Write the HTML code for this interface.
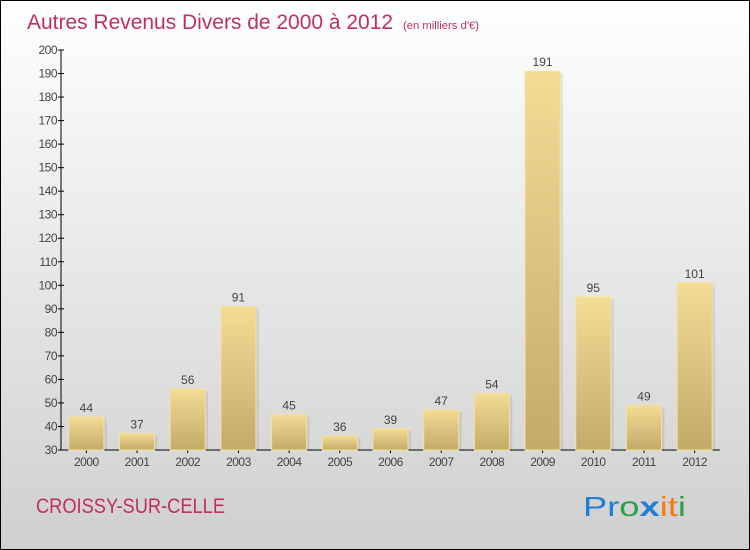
<!DOCTYPE html>
<html><head><meta charset="utf-8"><style>
body{margin:0}
#c{width:750px;height:550px;position:relative;overflow:hidden;font-family:"Liberation Sans",sans-serif}
</style></head><body>
<div id="c">
<svg id="s" width="750" height="550" xmlns="http://www.w3.org/2000/svg">
<defs>
<linearGradient id="bg" x1="0" y1="0" x2="0" y2="1"><stop offset="0" stop-color="#ffffff"/><stop offset="1" stop-color="#cfcfcf"/></linearGradient>
<linearGradient id="bar" x1="0" y1="0" x2="0" y2="1"><stop offset="0" stop-color="#f3dc96"/><stop offset="1" stop-color="#c4aa68"/></linearGradient>
</defs>
<rect x="0.5" y="0.5" width="749" height="549" fill="url(#bg)" stroke="#000"/>
<text x="27" y="29" font-size="21" fill="#c0305a"><tspan textLength="366" lengthAdjust="spacingAndGlyphs">Autres Revenus Divers de 2000 à 2012</tspan><tspan font-size="11" x="403" textLength="76" lengthAdjust="spacingAndGlyphs">(en milliers d'€)</tspan></text>
<g id="ax"></g>
<g id="bars"></g>
<text x="36" y="513" font-size="21" fill="#c0305a" textLength="189" lengthAdjust="spacingAndGlyphs">CROISSY-SUR-CELLE</text>
<text x="583" y="516" font-size="28" textLength="103" lengthAdjust="spacingAndGlyphs"><tspan fill="#1f7fd6">Pr</tspan><tspan fill="#2aa14a">o</tspan><tspan fill="#1f7fd6" font-weight="bold">x</tspan><tspan fill="#f07d12">i</tspan><tspan fill="#f07d12">t</tspan><tspan fill="#2aa14a">i</tspan></text>
</svg>
</div>
<script>
const categories=["2000","2001","2002","2003","2004","2005","2006","2007","2008","2009","2010","2011","2012"];
const values=[44,37,56,91,45,36,39,47,54,191,95,49,101];
const yTicks=[30,40,50,60,70,80,90,100,110,120,130,140,150,160,170,180,190,200];
const NS="http://www.w3.org/2000/svg";
const x0=61,x1=720,yTop=50,yBot=450,vMin=30,vMax=200;
const band=(x1-x0)/categories.length;
function y(v){return yBot-(v-vMin)/(vMax-vMin)*(yBot-yTop);}
function xc(i){return x0+band*(i+0.5);}
function mk(t,a,p){const e=document.createElementNS(NS,t);for(const k in a)e.setAttribute(k,a[k]);p.appendChild(e);return e;}
const ax=document.getElementById('ax'),bars=document.getElementById('bars');
const yl=mk('line',{x1:x0,y1:yTop,x2:x0,y2:yBot,stroke:'#000'},ax);


const xl=mk('line',{x1:x0,y1:yBot,x2:x1,y2:yBot,stroke:'#000'},ax);


yTicks.forEach(v=>{
 mk('line',{x1:x0-3,y1:y(v),x2:x0+3,y2:y(v),stroke:'#000'},ax);
 const t=mk('text',{x:x0-4,y:y(v)+4,'font-size':12,'text-anchor':'end',fill:'#444','letter-spacing':'-0.5'},ax);
 t.textContent=v;
 
 
});
categories.forEach((c,i)=>{
 const w=35,cx=xc(i),top=y(values[i]);
 mk('rect',{x:cx-w/2+3,y:top+2,width:w,height:yBot-top-2,fill:'#000',opacity:0.08},bars);
 const r=mk('rect',{x:cx-w/2,y:top,width:w,height:yBot-top,fill:'url(#bar)',stroke:'#f5e29a','stroke-width':1},bars);
 
 
 const vl=mk('text',{x:cx,y:top-5,'font-size':12,'text-anchor':'middle',fill:'#444'},bars);
 vl.textContent=values[i];
 
 
 mk('line',{x1:cx,y1:yBot,x2:cx,y2:yBot+3,stroke:'#000'},ax);
 const t=mk('text',{x:cx,y:yBot+16,'font-size':12,'text-anchor':'middle',fill:'#444','letter-spacing':'-0.5'},ax);
 t.textContent=c;
 
 
});
</script>
</body></html>
